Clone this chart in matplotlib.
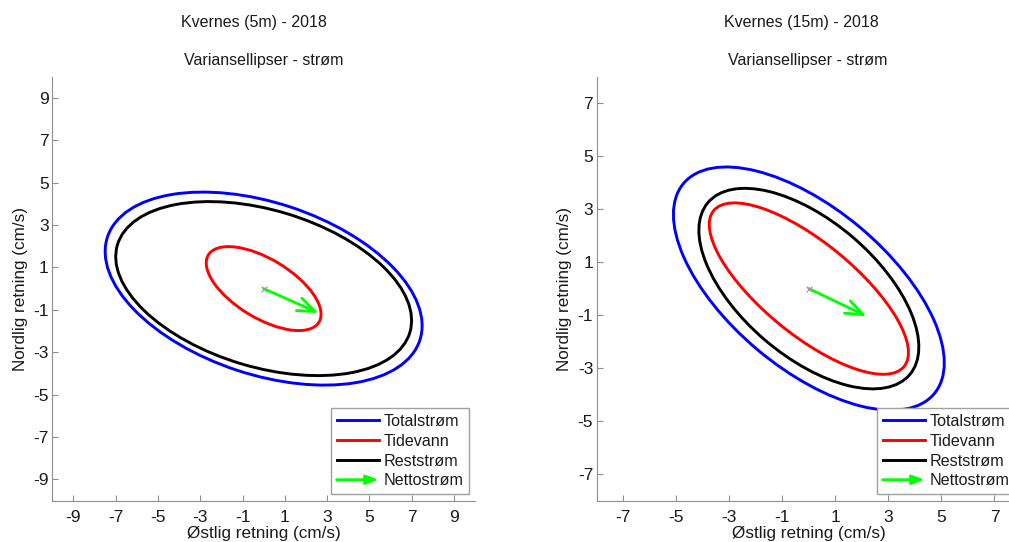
import matplotlib
matplotlib.use('Agg')
import matplotlib.pyplot as plt
from matplotlib.patches import Ellipse, FancyArrowPatch
from matplotlib.lines import Line2D
from matplotlib.legend_handler import HandlerBase

plt.rcParams['font.family'] = ['Liberation Sans', 'DejaVu Sans']
plt.rcParams['axes.unicode_minus'] = False

# Ellipse components (same order in both panels)
components = ['Totalstrøm', 'Tidevann', 'Reststrøm']
colors = ['#0000ff', '#ff0000', '#000000']

# Kvernes 5m: semi axes (cm/s) and orientation (deg)
major_5m = [7.78, 3.06, 7.22]
minor_5m = [4.05, 1.39, 3.70]
angle_5m = [-18.2, -31.1, -16.6]
net_5m = [2.60, -1.15]

# Kvernes 15m
major_15m = [6.17, 4.64, 5.00]
minor_15m = [3.01, 1.74, 2.55]
angle_15m = [-40.0, -39.3, -40.5]
net_15m = [2.18, -1.04]

titles = ['Kvernes (5m) - 2018', 'Kvernes (15m) - 2018']
subtitle = 'Variansellipser - strøm'
limits = [10, 8]
ticks_5m = [-9, -7, -5, -3, -1, 1, 3, 5, 7, 9]
ticks_15m = [-7, -5, -3, -1, 1, 3, 5, 7]

SPINE = '#8f8f8f'
GREEN = '#00ff00'
TXT = '#1a1a1a'


class ArrowHandler(HandlerBase):
    def create_artists(self, legend, orig_handle, xdescent, ydescent,
                       width, height, fontsize, trans):
        y = height / 2 - ydescent
        arr = FancyArrowPatch((-xdescent, y), (width - xdescent, y),
                              arrowstyle='-|>,head_length=0.8,head_width=0.3',
                              mutation_scale=9, color=GREEN, lw=2.0,
                              shrinkA=0, shrinkB=0, transform=trans)
        return [arr]


def draw_panel(ax, major, minor, angle, net, lim, ticks):
    for a, b, ang, c, name in zip(major, minor, angle, colors, components):
        ax.add_patch(Ellipse((0, 0), 2 * a, 2 * b, angle=ang, fill=False,
                             edgecolor=c, lw=2.1, label=name))

    ax.plot([0], [0], marker='x', color='#999999', ms=4, mew=0.8, ls='none')
    ax.add_patch(FancyArrowPatch((0, 0), (net[0], net[1]),
                                 arrowstyle='->,head_length=0.9,head_width=0.35',
                                 mutation_scale=14, color=GREEN, lw=2.0,
                                 shrinkA=0, shrinkB=0))

    ax.set_xlim(-lim, lim)
    ax.set_ylim(-lim, lim)
    ax.set_xticks(ticks)
    ax.set_yticks(ticks)
    ax.spines['top'].set_visible(False)
    ax.spines['right'].set_visible(False)
    ax.spines['left'].set_color(SPINE)
    ax.spines['bottom'].set_color(SPINE)
    ax.tick_params(direction='in', length=4, width=0.8, color=SPINE,
                   labelsize=12.5, labelcolor=TXT)
    ax.tick_params(axis='x', pad=6.8)
    ax.tick_params(axis='y', pad=2.5)
    ax.set_xlabel('Østlig retning (cm/s)', fontsize=12.3, labelpad=0.3, color=TXT)
    ax.set_ylabel('Nordlig retning (cm/s)', fontsize=12.3, labelpad=4, color=TXT)

    handles = [Line2D([], [], color=c, lw=2.1) for c in colors]
    handles.append(FancyArrowPatch((0, 0), (1, 0)))
    leg = ax.legend(handles, components + ['Nettostrøm'],
                    handler_map={FancyArrowPatch: ArrowHandler()},
                    loc='lower right',
                    bbox_to_anchor=(1 - 6 / 423, 6.7 / 424),
                    borderaxespad=0, fontsize=11.6, fancybox=False,
                    framealpha=1, edgecolor='#a0a0a0',
                    handlelength=2.6, handletextpad=0.3,
                    labelspacing=0.3, borderpad=0.35)
    leg.get_frame().set_linewidth(1.0)
    for t in leg.get_texts():
        t.set_color(TXT)


def main():
    fig = plt.figure(figsize=(10.09, 5.42), dpi=100)
    ax1 = fig.add_axes([52.3 / 1009, 41.3 / 542, 422.7 / 1009, 424.2 / 542])
    ax2 = fig.add_axes([596.7 / 1009, 41.3 / 542, 424.3 / 1009, 424.2 / 542])

    draw_panel(ax1, major_5m, minor_5m, angle_5m, net_5m, limits[0], ticks_5m)
    draw_panel(ax2, major_15m, minor_15m, angle_15m, net_15m, limits[1], ticks_15m)

    # two line titles
    fig.text(254 / 1009, 1 - 27 / 542, titles[0], ha='center', va='baseline',
             fontsize=11.5, color=TXT)
    fig.text(263.6 / 1009, 1 - 65 / 542, subtitle, ha='center', va='baseline',
             fontsize=11.5, color=TXT)
    fig.text(801 / 1009, 1 - 27 / 542, titles[1], ha='center', va='baseline',
             fontsize=11.5, color=TXT)
    fig.text(808 / 1009, 1 - 65 / 542, subtitle, ha='center', va='baseline',
             fontsize=11.5, color=TXT)

    fig.savefig('out.png', dpi=100)


if __name__ == '__main__':
    main()
